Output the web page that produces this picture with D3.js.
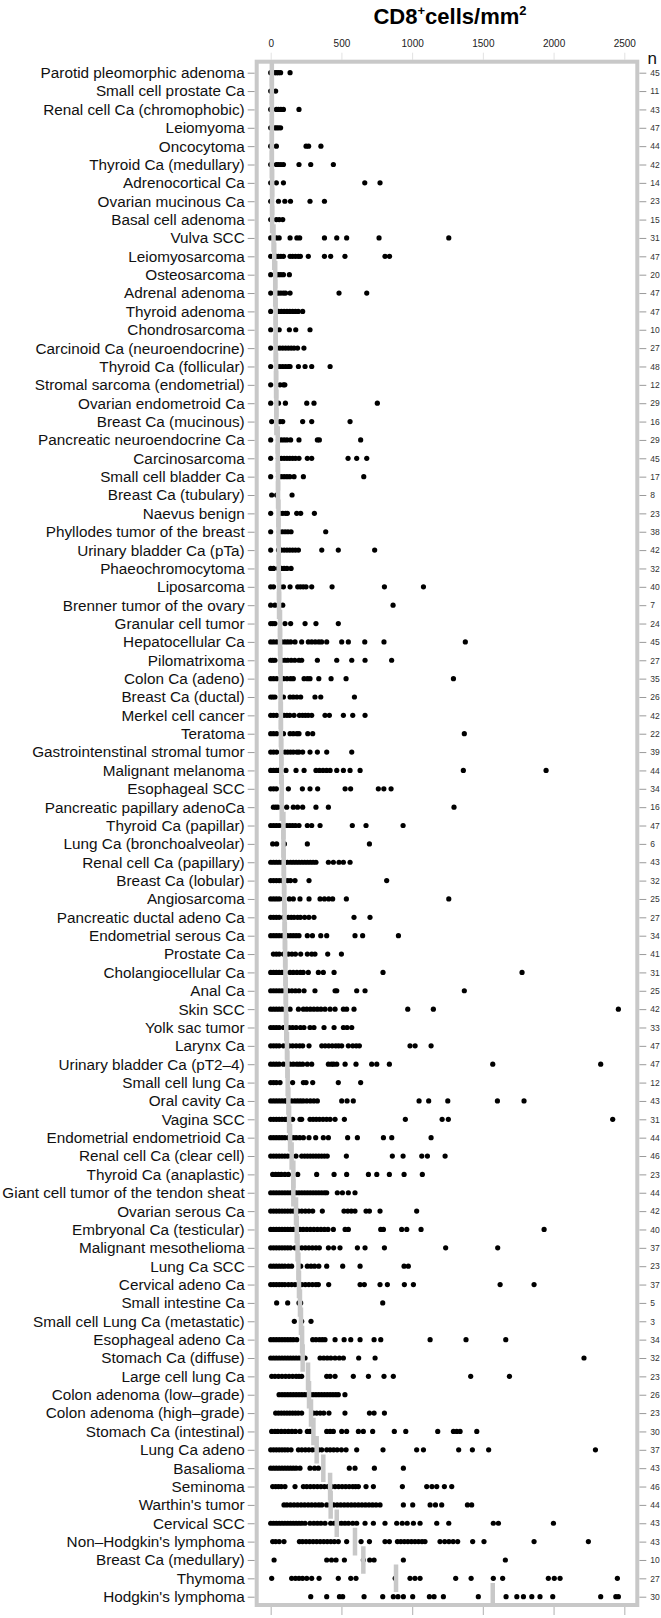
<!DOCTYPE html>
<html>
<head>
<meta charset="utf-8">
<script src="https://cdn.jsdelivr.net/npm/d3@7"></script>
<style>
html,body{margin:0;padding:0;background:#fff;}
svg{display:block;font-family:"Liberation Sans",Arial,Helvetica,sans-serif;}
</style>
</head>
<body>
<svg id="chart" width="661" height="1618"></svg>
<script>
const categories = [
"Parotid pleomorphic adenoma","Small cell prostate Ca","Renal cell Ca (chromophobic)","Leiomyoma","Oncocytoma",
"Thyroid Ca (medullary)","Adrenocortical Ca","Ovarian mucinous Ca","Basal cell adenoma","Vulva SCC",
"Leiomyosarcoma","Osteosarcoma","Adrenal adenoma","Thyroid adenoma","Chondrosarcoma",
"Carcinoid Ca (neuroendocrine)","Thyroid Ca (follicular)","Stromal sarcoma (endometrial)","Ovarian endometroid Ca","Breast Ca (mucinous)",
"Pancreatic neuroendocrine Ca","Carcinosarcoma","Small cell bladder Ca","Breast Ca (tubulary)","Naevus benign",
"Phyllodes tumor of the breast","Urinary bladder Ca (pTa)","Phaeochromocytoma","Liposarcoma","Brenner tumor of the ovary",
"Granular cell tumor","Hepatocellular Ca","Pilomatrixoma","Colon Ca (adeno)","Breast Ca (ductal)",
"Merkel cell cancer","Teratoma","Gastrointenstinal stromal tumor","Malignant melanoma","Esophageal SCC",
"Pancreatic papillary adenoCa","Thyroid Ca (papillar)","Lung Ca (bronchoalveolar)","Renal cell Ca (papillary)","Breast Ca (lobular)",
"Angiosarcoma","Pancreatic ductal adeno Ca","Endometrial serous Ca","Prostate Ca","Cholangiocellular Ca",
"Anal Ca","Skin SCC","Yolk sac tumor","Larynx Ca","Urinary bladder Ca (pT2\u20134)",
"Small cell lung Ca","Oral cavity Ca","Vagina SCC","Endometrial endometrioid Ca","Renal cell Ca (clear cell)",
"Thyroid Ca (anaplastic)","Giant cell tumor of the tendon sheat","Ovarian serous Ca","Embryonal Ca (testicular)","Malignant mesothelioma",
"Lung Ca SCC","Cervical adeno Ca","Small intestine Ca","Small cell Lung Ca (metastatic)","Esophageal adeno Ca",
"Stomach Ca (diffuse)","Large cell lung Ca","Colon adenoma (low\u2013grade)","Colon adenoma (high\u2013grade)","Stomach Ca (intestinal)",
"Lung Ca adeno","Basalioma","Seminoma","Warthin's tumor","Cervical SCC",
"Non\u2013Hodgkin's lymphoma","Breast Ca (medullary)","Thymoma","Hodgkin's lymphoma"
];

const nCounts = [45,11,43,47,44,42,14,23,15,31,47,20,47,47,10,27,48,12,29,16,29,45,17,8,23,38,42,32,40,7,
24,45,27,35,26,42,22,39,44,34,16,47,6,43,32,25,27,34,41,31,25,42,33,47,47,12,43,31,44,46,
23,44,42,40,37,23,37,5,3,34,32,23,26,23,30,37,43,46,44,43,43,10,27,30];

const medians = [8,8,8,8,8,8,10,10,10,20,25,32,32,35,35,35,38,38,40,40,
50,50,52,52,55,55,57,57,59,59,66,66,68,70,70,72,72,75,75,78,78,
90,90,92,94,96,98,100,102,104,106,
108,110,115,118,120,125,130,137,148,160,
160,179,184,190,196,200,207,214,222,226,264,271,285,302,325,372,420,424,467,596,655,886,1570];

const values = [
[0,30,42,55,70,137],
[0,35],
[0,40,55,72,90,200],
[0,30,42,55,70],
[0,40,250,268,355],
[0,40,55,72,90,200,283,443],
[0,40,90,665,773],
[0,55,100,140,278,380],
[0,40,60,85],
[0,40,60,137,185,205,380,467,537,766,1259],
[0,40,55,72,90,137,155,175,195,210,266,380,424,525,808,840],
[0,40,55,72,90,132],
[0,40,55,72,90,105,137,483,679],
[0,55,75,95,115,135,155,175,195,226],
[0,60,132,177,278],
[0,45,65,85,105,125,145,165,190,235],
[0,45,65,85,105,125,137,196,243,290,420],
[0,66,90,100],
[0,55,104,255,306,754],
[7,66,85,226,290,561],
[0,55,75,95,115,141,200,330,344,636],
[0,55,75,95,115,135,155,175,200,259,290,547,608,679],
[0,55,75,95,115,135,165,231,658],
[7,42,151],
[0,66,85,105,118,184,212,309],
[0,61,82,102,122,144,389],
[0,55,75,95,115,135,155,175,196,361,478,735],
[0,20,55,75,95,115,144],
[0,20,66,90,137,191,210,230,250,290,434,804,1080],
[0,30,85,865],
[0,15,30,101,141,243,320,478],
[0,20,42,78,100,120,141,172,219,266,290,315,340,360,396,502,549,665,801,1376],
[0,15,30,78,100,120,145,170,200,219,330,467,573,667,855],
[0,20,42,90,115,141,160,236,260,278,340,427,533,1292],
[0,15,30,90,137,160,185,212,313,354,592],
[0,20,42,94,115,135,165,203,225,245,265,290,384,415,514,580,667],
[0,20,42,90,137,160,185,200,262,297,1369],
[0,20,42,101,120,140,160,185,200,226,278,330,396,573],
[0,20,40,55,108,179,236,320,345,370,395,420,467,514,561,632,1362,1947],
[0,20,40,125,224,278,332,526,565,761,800,851],
[19,35,50,113,160,190,226,320,408,1296],
[0,20,40,60,90,115,135,155,175,200,259,290,349,577,674,936],
[14,42,97,259,698],
[0,20,40,60,80,101,118,140,160,180,200,220,240,260,280,300,320,408,443,483,514,561],
[0,20,40,60,80,100,120,140,172,271,820],
[0,20,40,60,90,132,160,207,271,349,380,410,438,535,1259],
[0,20,40,60,90,125,145,165,190,210,240,270,306,589,702],
[0,20,40,60,82,118,140,160,180,200,259,295,354,396,596,650,903],
[19,40,60,90,125,150,175,212,259,290,313,403,500],
[0,20,40,60,80,101,137,160,185,210,230,266,337,372,448,794,1777],
[0,20,40,60,80,101,125,150,175,200,236,313,455,467,608,667,1369],
[0,20,40,60,80,101,137,196,231,255,280,305,330,355,384,420,455,514,537,589,969,1150,2458],
[0,20,40,60,90,132,155,180,210,235,278,306,377,448,514,540,573],
[0,20,40,60,90,132,155,180,205,226,271,361,385,410,435,460,480,502,549,580,605,627,985,1021,1134],
[0,20,40,60,90,137,160,185,205,226,259,290,408,430,445,467,526,603,714,750,839,1570,2333],
[0,20,40,66,155,231,250,297,478,636],
[0,20,40,60,80,100,113,148,170,190,210,230,255,280,305,330,502,540,584,1049,1117,1252,1603,1791],
[0,20,40,60,80,100,113,155,207,219,278,300,322,345,370,395,420,455,521,952,1212,1256,2418],
[0,20,40,60,80,100,125,160,180,205,231,271,318,372,408,544,613,797,856,1134],
[0,20,40,60,80,100,120,144,179,219,240,260,280,300,320,340,360,380,400,535,860,936,1068,1108,1233],
[14,35,55,75,100,125,191,325,448,537,691,750,839,943,1072],
[0,20,40,60,80,100,120,140,160,180,200,220,240,260,280,300,320,340,360,380,396,471,507,549,596],
[0,20,40,60,80,100,120,140,160,196,220,245,270,297,365,518,545,570,596,674,698,773,1032],
[0,20,40,60,80,100,120,140,160,184,207,230,255,280,305,330,355,380,405,443,526,549,778,797,926,962,1063,1933],
[0,20,40,60,80,100,120,140,172,196,220,245,270,295,320,344,408,445,490,613,667,804,1237,1605],
[0,20,40,60,80,100,125,148,212,259,285,310,340,396,509,632,943,973],
[0,20,40,60,80,100,125,148,172,195,220,245,270,295,320,337,410,632,662,773,825,945,1009,1622,1862],
[42,120,200,212,792],
[167,219,285],
[0,20,40,60,80,100,120,140,160,184,297,320,345,365,384,455,519,566,632,731,778,1127,1381,1662],
[0,20,40,60,80,100,120,140,160,180,200,220,243,349,375,400,425,455,485,514,622,738,2215],
[7,30,55,80,105,130,155,180,200,219,396,420,455,584,691,801,867,1414,1688],
[59,80,100,120,140,160,180,200,220,240,260,280,300,320,340,360,380,400,420,440,460,478,525],
[35,55,75,95,115,135,155,175,195,219,302,325,350,375,412,525,698,731,804],
[7,30,50,75,100,125,150,175,207,259,278,396,420,443,502,537,620,655,721,874,955,1181,1292,1315,1339,1457],
[0,20,40,60,80,100,120,144,196,220,245,270,295,320,340,361,396,420,445,470,500,533,608,794,1032,1080,1329,1426,1541,2296],
[0,20,40,60,80,100,120,140,160,180,207,278,310,337,556,596,733,938],
[14,35,55,75,101,172,231,255,280,305,330,355,380,405,430,455,480,505,530,555,580,600,620,674,726,931,1103,1140,1174,1228,1280],
[94,115,140,165,190,215,240,265,290,315,340,361,396,420,445,470,495,520,545,570,595,620,645,670,695,720,745,773,938,1004,1127,1165,1209,1391,1421],
[0,20,40,60,80,100,120,140,160,180,200,220,243,278,305,330,355,384,424,450,475,500,525,550,580,608,667,726,808,891,930,965,1009,1056,1174,1259,1574,1610,1999],
[14,35,60,94,203,225,250,275,300,325,350,375,400,425,450,478,537,639,698,808,839,896,920,945,970,995,1020,1045,1070,1091,1197,1230,1260,1290,1322,1428,1508,1862,2246],
[24,396,430,462,521,655,700,731,938,1659],
[7,148,175,200,225,255,290,342,478,566,603,880,985,1020,1056,1308,1417,1574,1640,1963,2005,2046,2451],
[283,396,486,509,660,792,867,900,938,1004,1122,1155,1221,1468,1664,1740,1787,1846,1904,1994,2333,2440,2458]
];

const xTicks = [0,500,1000,1500,2000,2500];

const svg = d3.select("#chart");
const frame = {left:256.7, right:637.3, top:61.7, bottom:1605};
const gray = "#c8c8c8";

const x = d3.scaleLinear().domain([0,2500]).range([270.7,624.3]);
const y = d3.scalePoint().domain(categories).range([72.7,1596.7]);
const step = y.step();

// title
const title = svg.append("text")
  .attr("x",450).attr("y",23.5)
  .attr("text-anchor","middle")
  .attr("font-size",22).attr("font-weight","bold").attr("fill","#000");
title.append("tspan").text("CD8");
title.append("tspan").attr("font-size",13).attr("dy",-9).text("+");
title.append("tspan").attr("dy",9).text("cells/mm");
title.append("tspan").attr("font-size",13).attr("dy",-9).text("2");

// top axis (labels)
const topAx = svg.append("g").attr("transform",`translate(0,${frame.top-2})`)
  .call(d3.axisTop(x).tickValues(xTicks).tickSize(7).tickPadding(6).tickFormat(d3.format("d")));
topAx.select(".domain").remove();
topAx.selectAll("line").attr("stroke","#e2e2e2");
topAx.selectAll("text").attr("font-size",10).attr("fill","#222").attr("font-family","inherit");

// bottom axis (ticks)
const botAx = svg.append("g").attr("transform",`translate(0,${frame.bottom+2})`)
  .call(d3.axisBottom(x).tickValues(xTicks).tickSize(8).tickFormat(""));
botAx.select(".domain").remove();
botAx.selectAll("line").attr("stroke","#bdbdbd").attr("stroke-width",1.2);

// left axis (categories)
const leftAx = svg.append("g").attr("transform",`translate(${frame.left-2},0)`)
  .call(d3.axisLeft(y).tickSize(7).tickPadding(3));
leftAx.select(".domain").remove();
leftAx.selectAll("line").attr("stroke","#9a9a9a");
leftAx.selectAll("text").attr("font-size",15.3).attr("fill","#111").attr("font-family","inherit");

// right axis (n)
const rightAx = svg.append("g").attr("transform",`translate(${frame.right+2},0)`)
  .call(d3.axisRight(y).tickSize(7).tickPadding(4).tickFormat((d,i)=>nCounts[categories.indexOf(d)]));
rightAx.select(".domain").remove();
rightAx.selectAll("line").attr("stroke","#9a9a9a");
rightAx.selectAll("text").attr("font-size",8.5).attr("fill","#333").attr("font-family","inherit");

svg.append("text").attr("x",647.5).attr("y",63.5).attr("font-size",17).attr("fill","#111").text("n");

// frame
svg.append("rect")
  .attr("x",frame.left).attr("y",frame.top)
  .attr("width",frame.right-frame.left).attr("height",frame.bottom-frame.top)
  .attr("fill","none").attr("stroke",gray).attr("stroke-width",4);

// dots
const pts = [];
categories.forEach((c,i)=>values[i].forEach(v=>pts.push({c,v})));
svg.append("g").selectAll("circle").data(pts).join("circle")
  .attr("cx",d=>x(d.v)).attr("cy",d=>y(d.c)).attr("r",2.6).attr("fill","#000");

// medians
svg.append("defs").append("clipPath").attr("id","inner")
  .append("rect").attr("x",frame.left).attr("y",frame.top)
  .attr("width",frame.right-frame.left).attr("height",frame.bottom-frame.top);
svg.append("g").attr("clip-path","url(#inner)")
  .selectAll("line").data(categories).join("line")
  .attr("x1",(d,i)=>x(medians[i])).attr("x2",(d,i)=>x(medians[i]))
  .attr("y1",d=>y(d)-0.75*step).attr("y2",d=>y(d)+0.75*step)
  .attr("stroke",gray).attr("stroke-width",4.5);
</script>
</body>
</html>
